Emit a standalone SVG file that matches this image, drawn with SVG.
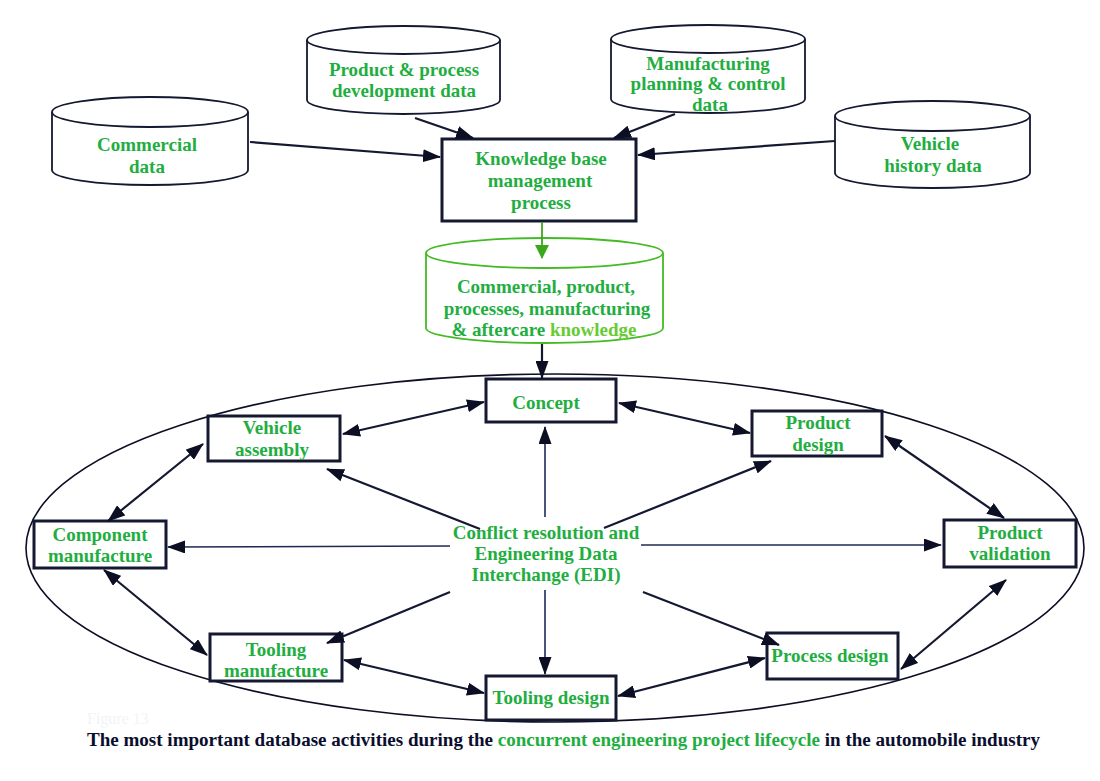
<svg xmlns="http://www.w3.org/2000/svg" width="1100" height="781" viewBox="0 0 1100 781">
<style>
.t{font-family:"Liberation Serif","Times New Roman",serif;font-weight:bold;font-size:19px;fill:#1fae3f;text-anchor:middle}
.box{fill:#fff;stroke:#141830;stroke-width:3}
.cyl{fill:#fff;stroke:#141830;stroke-width:1.8}
.gcyl{fill:#fff;stroke:#44bb22;stroke-width:1.8}
.c{stroke:#141830;stroke-width:2.2;fill:none}
.cc{stroke:#1c2a55;stroke-width:1.6;fill:none}
</style>
<defs>
<marker id="ah" markerUnits="userSpaceOnUse" markerWidth="18" markerHeight="13" refX="17" refY="6.5" orient="auto-start-reverse"><path d="M0,0 L18,6.5 L0,13 z" fill="#0c0f24"/></marker>
<marker id="gah" markerUnits="userSpaceOnUse" markerWidth="14" markerHeight="14" refX="7" refY="13" orient="0"><path d="M0,0 L7,14 L14,0 z" fill="#3aa818"/></marker>
</defs>
<rect width="1100" height="781" fill="#fff"/>
<ellipse cx="555" cy="548" rx="529" ry="174" fill="none" stroke="#0c0f24" stroke-width="1.6"/>
<g id="commercial-data">
<path class="cyl" d="M52,112 V170 A98,15 0 0 0 248,170 V112"/>
<ellipse class="cyl" cx="150" cy="112" rx="98" ry="15"/>
<text class="t" x="147" y="151">Commercial</text><text class="t" x="147" y="173">data</text>
</g>
<g id="product-process-data">
<path class="cyl" d="M307,40 V100 A96.5,14 0 0 0 500,100 V40"/>
<ellipse class="cyl" cx="403.5" cy="40" rx="96.5" ry="14"/>
<text class="t" x="404" y="76">Product &amp; process</text><text class="t" x="404" y="97">development data</text>
</g>
<g id="manufacturing-data">
<path class="cyl" d="M611,39 V99 A97,14 0 0 0 805,99 V39"/>
<ellipse class="cyl" cx="708" cy="39" rx="97" ry="14"/>
<text class="t" x="708" y="70">Manufacturing</text><text class="t" x="708" y="90">planning &amp; control</text><text class="t" x="710" y="111">data</text>
</g>
<g id="vehicle-history-data">
<path class="cyl" d="M835,116 V173 A97.5,15 0 0 0 1030,173 V116"/>
<ellipse class="cyl" cx="932.5" cy="116" rx="97.5" ry="15"/>
<text class="t" x="930" y="150">Vehicle</text><text class="t" x="933" y="172">history data</text>
</g>
<g id="knowledge-base-process">
<rect class="box" x="442" y="139" width="194" height="82"/>
<text class="t" x="541" y="165">Knowledge base</text><text class="t" x="540" y="187">management</text><text class="t" x="541" y="209">process</text>
</g>
<g id="knowledge-store">
<path class="gcyl" d="M426,253 V328 A118.5,15 0 0 0 663,328 V253"/>
<ellipse class="gcyl" cx="544.5" cy="253" rx="118.5" ry="15"/>
<text class="t" x="546" y="293">Commercial, product,</text><text class="t" x="547" y="315">processes, manufacturing</text><text class="t" x="544" y="336">&amp; aftercare <tspan fill="#66cc33">knowledge</tspan></text>
</g>
<g id="concept"><rect class="box" x="486" y="379" width="130" height="43"/><text class="t" x="546" y="409">Concept</text></g>
<g id="vehicle-assembly"><rect class="box" x="208" y="416" width="132" height="45"/><text class="t" x="272" y="434">Vehicle</text><text class="t" x="272" y="456">assembly</text></g>
<g id="product-design"><rect class="box" x="752" y="411" width="130" height="45"/><text class="t" x="818" y="429">Product</text><text class="t" x="818" y="451">design</text></g>
<g id="component-manufacture"><rect class="box" x="34" y="521" width="132" height="47"/><text class="t" x="100" y="541">Component</text><text class="t" x="100" y="562">manufacture</text></g>
<g id="product-validation"><rect class="box" x="944" y="520" width="132" height="47"/><text class="t" x="1010" y="539">Product</text><text class="t" x="1010" y="560">validation</text></g>
<g id="tooling-manufacture"><rect class="box" x="210" y="634" width="132" height="47"/><text class="t" x="276" y="656">Tooling</text><text class="t" x="276" y="677">manufacture</text></g>
<g id="process-design"><rect class="box" x="767" y="633" width="131" height="46"/><text class="t" x="830" y="662">Process design</text></g>
<g id="tooling-design"><rect class="box" x="486" y="676" width="130" height="44"/><text class="t" x="551" y="704">Tooling design</text></g>
<g id="edi"><text class="t" x="546" y="539">Conflict resolution and</text><text class="t" x="546" y="560">Engineering Data</text><text class="t" x="546" y="581">Interchange (EDI)</text></g>
<g id="connectors">
<line class="c" x1="250" y1="142" x2="440" y2="157" marker-end="url(#ah)"/>
<line class="c" x1="415" y1="118" x2="473" y2="138" marker-end="url(#ah)"/>
<line class="c" x1="675" y1="114" x2="614" y2="138" marker-end="url(#ah)"/>
<line class="c" x1="835" y1="141" x2="638" y2="155" marker-end="url(#ah)"/>
<line x1="542" y1="222" x2="542" y2="258" stroke="#3aa818" stroke-width="1.8" marker-end="url(#gah)"/>
<line class="c" x1="542" y1="344" x2="542" y2="378" marker-end="url(#ah)"/>
<line class="c" x1="484" y1="402" x2="343" y2="434" marker-start="url(#ah)" marker-end="url(#ah)"/>
<line class="c" x1="619" y1="403" x2="750" y2="433" marker-start="url(#ah)" marker-end="url(#ah)"/>
<line class="c" x1="203" y1="444" x2="108" y2="521" marker-start="url(#ah)" marker-end="url(#ah)"/>
<line class="c" x1="104" y1="570" x2="207" y2="655" marker-start="url(#ah)" marker-end="url(#ah)"/>
<line class="c" x1="344" y1="660" x2="484" y2="693" marker-start="url(#ah)" marker-end="url(#ah)"/>
<line class="c" x1="618" y1="696" x2="765" y2="658" marker-start="url(#ah)" marker-end="url(#ah)"/>
<line class="c" x1="901" y1="669" x2="1006" y2="580" marker-start="url(#ah)" marker-end="url(#ah)"/>
<line class="c" x1="885" y1="436" x2="1004" y2="518" marker-start="url(#ah)" marker-end="url(#ah)"/>
<line class="c" x1="480" y1="529" x2="327" y2="469" marker-end="url(#ah)"/>
<line class="c" x1="604" y1="528" x2="771" y2="461" marker-end="url(#ah)"/>
<line class="cc" x1="545" y1="517" x2="545" y2="427" marker-end="url(#ah)"/>
<line class="cc" x1="450" y1="546" x2="168" y2="547" marker-end="url(#ah)"/>
<line class="cc" x1="641" y1="545" x2="941" y2="545" marker-end="url(#ah)"/>
<line class="c" x1="450" y1="592" x2="327" y2="643" marker-end="url(#ah)"/>
<line class="c" x1="643" y1="592" x2="779" y2="645" marker-end="url(#ah)"/>
<line class="cc" x1="545" y1="590" x2="545" y2="674" marker-end="url(#ah)"/>
</g>
<text x="87" y="724" font-family="Liberation Serif, serif" font-size="16" fill="#f1f4f8">Figure 13</text>
<text x="87" y="746" font-family="Liberation Serif, serif" font-weight="bold" font-size="18" fill="#0a0d2e" textLength="953" lengthAdjust="spacingAndGlyphs">The most important database activities during the <tspan fill="#1fae3f">concurrent engineering project lifecycle</tspan> in the automobile industry</text>
</svg>
